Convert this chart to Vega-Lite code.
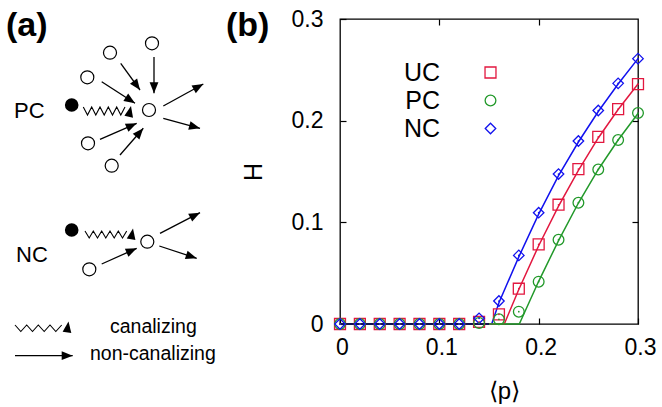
{
  "$schema": "https://vega.github.io/schema/vega-lite/v6.json",
  "width": 298,
  "height": 305,
  "autosize": {"type": "none"},
  "padding": {"left": 340, "top": 19, "right": 24, "bottom": 83},
  "background": "white",
  "config": {
    "font": "Liberation Sans",
    "view": {"stroke": "black", "strokeWidth": 1.3}
  },
  "datasets": {
    "markers": [
      {"s": "UC", "p": 0, "h": 0}, {"s": "UC", "p": 0.02, "h": 0}, {"s": "UC", "p": 0.04, "h": 0}, {"s": "UC", "p": 0.06, "h": 0},
      {"s": "UC", "p": 0.08, "h": 0}, {"s": "UC", "p": 0.1, "h": 0}, {"s": "UC", "p": 0.12, "h": 0}, {"s": "UC", "p": 0.14, "h": 0.002},
      {"s": "UC", "p": 0.16, "h": 0.0095}, {"s": "UC", "p": 0.18, "h": 0.0347}, {"s": "UC", "p": 0.2, "h": 0.0783}, {"s": "UC", "p": 0.22, "h": 0.1173},
      {"s": "UC", "p": 0.24, "h": 0.1524}, {"s": "UC", "p": 0.26, "h": 0.184}, {"s": "UC", "p": 0.28, "h": 0.2114}, {"s": "UC", "p": 0.3, "h": 0.236},
      {"s": "PC", "p": 0, "h": 0}, {"s": "PC", "p": 0.02, "h": 0}, {"s": "PC", "p": 0.04, "h": 0}, {"s": "PC", "p": 0.06, "h": 0},
      {"s": "PC", "p": 0.08, "h": 0}, {"s": "PC", "p": 0.1, "h": 0}, {"s": "PC", "p": 0.12, "h": 0}, {"s": "PC", "p": 0.14, "h": 0.001},
      {"s": "PC", "p": 0.16, "h": 0.0046}, {"s": "PC", "p": 0.18, "h": 0.0121}, {"s": "PC", "p": 0.2, "h": 0.0416}, {"s": "PC", "p": 0.22, "h": 0.0829},
      {"s": "PC", "p": 0.24, "h": 0.1193}, {"s": "PC", "p": 0.26, "h": 0.152}, {"s": "PC", "p": 0.28, "h": 0.181}, {"s": "PC", "p": 0.3, "h": 0.2075},
      {"s": "NC", "p": 0, "h": 0}, {"s": "NC", "p": 0.02, "h": 0}, {"s": "NC", "p": 0.04, "h": 0}, {"s": "NC", "p": 0.06, "h": 0},
      {"s": "NC", "p": 0.08, "h": 0}, {"s": "NC", "p": 0.1, "h": 0}, {"s": "NC", "p": 0.12, "h": 0}, {"s": "NC", "p": 0.14, "h": 0.0056},
      {"s": "NC", "p": 0.16, "h": 0.0226}, {"s": "NC", "p": 0.18, "h": 0.0675}, {"s": "NC", "p": 0.2, "h": 0.1095}, {"s": "NC", "p": 0.22, "h": 0.1475},
      {"s": "NC", "p": 0.24, "h": 0.18}, {"s": "NC", "p": 0.26, "h": 0.21}, {"s": "NC", "p": 0.28, "h": 0.2367}, {"s": "NC", "p": 0.3, "h": 0.261}
    ],
    "fits": [
      {"s": "NC", "p": 0, "h": 0}, {"s": "NC", "p": 0.1527, "h": 0}, {"s": "NC", "p": 0.16, "h": 0.021}, {"s": "NC", "p": 0.18, "h": 0.066},
      {"s": "NC", "p": 0.2, "h": 0.108}, {"s": "NC", "p": 0.22, "h": 0.146}, {"s": "NC", "p": 0.24, "h": 0.179}, {"s": "NC", "p": 0.26, "h": 0.209},
      {"s": "NC", "p": 0.28, "h": 0.236}, {"s": "NC", "p": 0.3, "h": 0.261},
      {"s": "UC", "p": 0, "h": 0}, {"s": "UC", "p": 0.1654, "h": 0}, {"s": "UC", "p": 0.18, "h": 0.034}, {"s": "UC", "p": 0.2, "h": 0.077},
      {"s": "UC", "p": 0.22, "h": 0.116}, {"s": "UC", "p": 0.24, "h": 0.151}, {"s": "UC", "p": 0.26, "h": 0.183}, {"s": "UC", "p": 0.28, "h": 0.211},
      {"s": "UC", "p": 0.3, "h": 0.236},
      {"s": "PC", "p": 0, "h": 0}, {"s": "PC", "p": 0.1805, "h": 0}, {"s": "PC", "p": 0.2, "h": 0.042}, {"s": "PC", "p": 0.22, "h": 0.082},
      {"s": "PC", "p": 0.24, "h": 0.119}, {"s": "PC", "p": 0.26, "h": 0.152}, {"s": "PC", "p": 0.28, "h": 0.181}, {"s": "PC", "p": 0.3, "h": 0.207},
      {"s": "base", "p": 0, "h": 0}, {"s": "base", "p": 0.15, "h": 0}
    ],
    "nodes": [
      {"k": "target", "u": 14.9, "v": 11.0}, {"k": "other", "u": 15.2, "v": 4.33}, {"k": "other", "u": 11.0, "v": 5.27},
      {"k": "other", "u": 8.73, "v": 7.73}, {"k": "other", "u": 8.8, "v": 14.33}, {"k": "other", "u": 11.17, "v": 16.57},
      {"k": "canal", "u": 7.17, "v": 10.5},
      {"k": "target", "u": 14.73, "v": 24.17}, {"k": "other", "u": 8.93, "v": 26.93}, {"k": "canal", "u": 7.17, "v": 23.0}
    ],
    "arrows": [
      {"u1": 12.07, "v1": 6.33, "u2": 14.0, "v2": 9.0},
      {"u1": 15.4, "v1": 5.7, "u2": 15.4, "v2": 9.33},
      {"u1": 10.17, "v1": 8.17, "u2": 13.5, "v2": 10.33},
      {"u1": 10.0, "v1": 13.93, "u2": 13.67, "v2": 12.33},
      {"u1": 12.0, "v1": 15.5, "u2": 14.33, "v2": 12.83},
      {"u1": 16.33, "v1": 10.6, "u2": 20.33, "v2": 8.4},
      {"u1": 16.33, "v1": 11.83, "u2": 20.0, "v2": 12.83},
      {"u1": 10.17, "v1": 26.4, "u2": 13.67, "v2": 24.83},
      {"u1": 16.0, "v1": 23.33, "u2": 20.0, "v2": 21.27},
      {"u1": 15.93, "v1": 24.6, "u2": 19.67, "v2": 25.83},
      {"u1": 1.5, "v1": 35.57, "u2": 7.27, "v2": 35.57}
    ],
    "heads": [
      {"u": 14.0, "v": 9.0, "a": 144}, {"u": 15.4, "v": 9.33, "a": 180}, {"u": 13.5, "v": 10.33, "a": 123},
      {"u": 13.67, "v": 12.33, "a": 66}, {"u": 14.33, "v": 12.83, "a": 41}, {"u": 20.33, "v": 8.4, "a": 61},
      {"u": 20.0, "v": 12.83, "a": 105}, {"u": 13.67, "v": 24.83, "a": 66}, {"u": 20.0, "v": 21.27, "a": 63},
      {"u": 19.67, "v": 25.83, "a": 108}, {"u": 7.27, "v": 35.57, "a": 90},
      {"u": 13.1, "v": 10.6, "a": 12}, {"u": 13.3, "v": 22.85, "a": 10}, {"u": 6.85, "v": 32.15, "a": 8}
    ],
    "zigzags": [
      {"z": "PC", "i": 0, "u": 8.33, "v": 10.7}, {"z": "PC", "i": 1, "u": 8.75, "v": 11.5}, {"z": "PC", "i": 2, "u": 9.17, "v": 10.7},
      {"z": "PC", "i": 3, "u": 9.58, "v": 11.5}, {"z": "PC", "i": 4, "u": 10.0, "v": 10.7}, {"z": "PC", "i": 5, "u": 10.42, "v": 11.5},
      {"z": "PC", "i": 6, "u": 10.83, "v": 10.7}, {"z": "PC", "i": 7, "u": 11.25, "v": 11.5}, {"z": "PC", "i": 8, "u": 11.67, "v": 10.7},
      {"z": "PC", "i": 9, "u": 12.08, "v": 11.5}, {"z": "PC", "i": 10, "u": 12.5, "v": 10.7},
      {"z": "NC", "i": 0, "u": 8.5, "v": 23.1}, {"z": "NC", "i": 1, "u": 8.92, "v": 23.8}, {"z": "NC", "i": 2, "u": 9.33, "v": 23.1},
      {"z": "NC", "i": 3, "u": 9.75, "v": 23.8}, {"z": "NC", "i": 4, "u": 10.17, "v": 23.1}, {"z": "NC", "i": 5, "u": 10.58, "v": 23.8},
      {"z": "NC", "i": 6, "u": 11.0, "v": 23.1}, {"z": "NC", "i": 7, "u": 11.42, "v": 23.8}, {"z": "NC", "i": 8, "u": 11.83, "v": 23.1},
      {"z": "NC", "i": 9, "u": 12.25, "v": 23.8}, {"z": "NC", "i": 10, "u": 12.67, "v": 23.1},
      {"z": "key", "i": 0, "u": 1.5, "v": 32.5}, {"z": "key", "i": 1, "u": 2.08, "v": 33.15}, {"z": "key", "i": 2, "u": 2.67, "v": 32.5},
      {"z": "key", "i": 3, "u": 3.25, "v": 33.15}, {"z": "key", "i": 4, "u": 3.83, "v": 32.5}, {"z": "key", "i": 5, "u": 4.42, "v": 33.15},
      {"z": "key", "i": 6, "u": 5.0, "v": 32.5}, {"z": "key", "i": 7, "u": 5.58, "v": 33.15}, {"z": "key", "i": 8, "u": 6.17, "v": 32.5}
    ],
    "panelTags": [
      {"t": "(a)", "u": 0.6, "v": 3.55}, {"t": "(b)", "u": 22.6, "v": 3.55}
    ],
    "netTags": [
      {"t": "PC", "u": 1.4, "v": 11.8}, {"t": "NC", "u": 1.6, "v": 26.2}
    ],
    "keyTags": [
      {"t": "canalizing", "u": 11.0, "v": 33.25}, {"t": "non-canalizing", "u": 9.0, "v": 36.0}
    ]
  },
  "layer": [
    {
      "layer": [
        {
          "data": {"name": "fits"},
          "transform": [{"filter": "datum.s !== 'base'"}],
          "mark": {"type": "line", "strokeWidth": 1.5},
          "encoding": {
            "x": {
              "field": "p", "type": "quantitative",
              "scale": {"domain": [0, 0.3], "nice": false, "zero": false},
              "axis": {
                "orient": "bottom", "values": [0, 0.1, 0.2, 0.3], "format": "~g",
                "labelFlush": false, "labelOverlap": false, "grid": false, "domain": false,
                "tickSize": -6, "tickColor": "black", "tickWidth": 1.2,
                "labelFontSize": 23, "labelColor": "black", "labelPadding": 18, "labelOffset": 2,
                "title": "⟨p⟩", "titleFontSize": 24, "titleFontWeight": "normal", "titleColor": "black",
                "titleX": 164, "titleY": 74, "titleBaseline": "alphabetic", "titleAlign": "center"
              }
            },
            "y": {
              "field": "h", "type": "quantitative",
              "scale": {"domain": [0, 0.3], "nice": false, "zero": false},
              "axis": {
                "orient": "left", "values": [0, 0.1, 0.2, 0.3], "format": "~g",
                "labelFlush": false, "labelOverlap": false, "grid": false, "domain": false,
                "tickSize": -6, "tickColor": "black", "tickWidth": 1.2,
                "labelFontSize": 23, "labelColor": "black", "labelPadding": 23,
                "title": "H", "titleFontSize": 25, "titleFontWeight": "normal", "titleColor": "black",
                "titleAngle": -90, "titleX": -87, "titleY": 152.5, "titleBaseline": "middle", "titleAlign": "center"
              }
            },
            "color": {
              "field": "s", "type": "nominal",
              "scale": {"domain": ["UC", "PC", "NC"], "range": ["#e2173f", "#22992a", "#1111ee"]},
              "legend": null
            }
          }
        },
        {
          "data": {"name": "fits"},
          "transform": [{"filter": "datum.s === 'base'"}],
          "mark": {"type": "line", "strokeWidth": 2, "color": "#141450"},
          "encoding": {
            "x": {"field": "p", "type": "quantitative", "axis": null},
            "y": {"field": "h", "type": "quantitative", "axis": null}
          }
        },
        {
          "data": {"name": "markers"},
          "mark": {"type": "point", "filled": false, "strokeWidth": 1.3, "opacity": 1},
          "encoding": {
            "x": {
              "field": "p", "type": "quantitative",
              "axis": {"orient": "top", "values": [0.1, 0.2], "labels": false, "title": null, "grid": false, "domain": false, "tickSize": -6, "tickColor": "black", "tickWidth": 1.2}
            },
            "y": {
              "field": "h", "type": "quantitative",
              "axis": {"orient": "right", "values": [0.1, 0.2], "labels": false, "title": null, "grid": false, "domain": false, "tickSize": -6, "tickColor": "black", "tickWidth": 1.2}
            },
            "color": {
              "field": "s", "type": "nominal",
              "legend": {
                "orient": "none", "legendX": 138, "legendY": 41, "title": null,
                "labelFontSize": 25, "labelColor": "black", "labelAlign": "right", "labelOffset": -63,
                "symbolStrokeWidth": 1.3, "rowPadding": 2, "padding": 0, "labelLimit": 0
              }
            },
            "shape": {
              "field": "s", "type": "nominal",
              "scale": {"domain": ["UC", "PC", "NC"], "range": ["square", "circle", "diamond"]}
            },
            "size": {
              "field": "s", "type": "nominal",
              "scale": {"domain": ["UC", "PC", "NC"], "range": [120, 110, 150]}
            }
          }
        },
        {
          "data": {"name": "markers"},
          "mark": {"type": "point", "filled": true, "size": 3, "shape": "circle", "opacity": 1},
          "encoding": {
            "x": {"field": "p", "type": "quantitative", "axis": null},
            "y": {"field": "h", "type": "quantitative", "axis": null},
            "color": {"field": "s", "type": "nominal", "legend": null}
          }
        }
      ],
      "resolve": {
        "axis": {"x": "independent", "y": "independent"},
        "legend": {"color": "independent", "shape": "independent", "size": "independent"}
      }
    },
    {
      "layer": [
        {
          "data": {"name": "arrows"},
          "mark": {"type": "rule", "color": "black", "strokeWidth": 1.3},
          "encoding": {
            "x": {"field": "u1", "type": "quantitative", "scale": {"domain": [34, 63.8], "nice": false, "zero": false}, "axis": null},
            "y": {"field": "v1", "type": "quantitative", "scale": {"domain": [1.9, 32.4], "nice": false, "zero": false, "reverse": true}, "axis": null},
            "x2": {"field": "u2"},
            "y2": {"field": "v2"}
          }
        },
        {
          "data": {"name": "heads"},
          "mark": {"type": "point", "shape": "M0,0L0.4,1L-0.4,1Z", "filled": true, "color": "black", "size": 484, "opacity": 1},
          "encoding": {
            "x": {"field": "u", "type": "quantitative", "scale": {"domain": [34, 63.8], "nice": false, "zero": false}, "axis": null},
            "y": {"field": "v", "type": "quantitative", "scale": {"domain": [1.9, 32.4], "nice": false, "zero": false, "reverse": true}, "axis": null},
            "angle": {"field": "a", "type": "quantitative", "scale": null}
          }
        },
        {
          "data": {"name": "zigzags"},
          "mark": {"type": "line", "color": "black", "strokeWidth": 1.1},
          "encoding": {
            "x": {"field": "u", "type": "quantitative", "scale": {"domain": [34, 63.8], "nice": false, "zero": false}, "axis": null},
            "y": {"field": "v", "type": "quantitative", "scale": {"domain": [1.9, 32.4], "nice": false, "zero": false, "reverse": true}, "axis": null},
            "detail": {"field": "z", "type": "nominal"},
            "order": {"field": "i", "type": "quantitative"}
          }
        },
        {
          "data": {"name": "nodes"},
          "transform": [{"filter": "datum.k !== 'canal'"}],
          "mark": {"type": "point", "shape": "circle", "filled": false, "color": "black", "size": 170, "strokeWidth": 1.2, "opacity": 1},
          "encoding": {
            "x": {"field": "u", "type": "quantitative", "scale": {"domain": [34, 63.8], "nice": false, "zero": false}, "axis": null},
            "y": {"field": "v", "type": "quantitative", "scale": {"domain": [1.9, 32.4], "nice": false, "zero": false, "reverse": true}, "axis": null}
          }
        },
        {
          "data": {"name": "nodes"},
          "transform": [{"filter": "datum.k === 'canal'"}],
          "mark": {"type": "point", "shape": "circle", "filled": true, "color": "black", "size": 185, "opacity": 1},
          "encoding": {
            "x": {"field": "u", "type": "quantitative", "scale": {"domain": [34, 63.8], "nice": false, "zero": false}, "axis": null},
            "y": {"field": "v", "type": "quantitative", "scale": {"domain": [1.9, 32.4], "nice": false, "zero": false, "reverse": true}, "axis": null}
          }
        },
        {
          "data": {"name": "panelTags"},
          "mark": {"type": "text", "align": "left", "baseline": "alphabetic", "fontSize": 34, "fontWeight": "bold", "color": "black"},
          "encoding": {
            "x": {"field": "u", "type": "quantitative", "scale": {"domain": [34, 63.8], "nice": false, "zero": false}, "axis": null},
            "y": {"field": "v", "type": "quantitative", "scale": {"domain": [1.9, 32.4], "nice": false, "zero": false, "reverse": true}, "axis": null},
            "text": {"field": "t"}
          }
        },
        {
          "data": {"name": "netTags"},
          "mark": {"type": "text", "align": "left", "baseline": "alphabetic", "fontSize": 22, "color": "black"},
          "encoding": {
            "x": {"field": "u", "type": "quantitative", "scale": {"domain": [34, 63.8], "nice": false, "zero": false}, "axis": null},
            "y": {"field": "v", "type": "quantitative", "scale": {"domain": [1.9, 32.4], "nice": false, "zero": false, "reverse": true}, "axis": null},
            "text": {"field": "t"}
          }
        },
        {
          "data": {"name": "keyTags"},
          "mark": {"type": "text", "align": "left", "baseline": "alphabetic", "fontSize": 19.5, "color": "black"},
          "encoding": {
            "x": {"field": "u", "type": "quantitative", "scale": {"domain": [34, 63.8], "nice": false, "zero": false}, "axis": null},
            "y": {"field": "v", "type": "quantitative", "scale": {"domain": [1.9, 32.4], "nice": false, "zero": false, "reverse": true}, "axis": null},
            "text": {"field": "t"}
          }
        }
      ]
    }
  ],
  "resolve": {"scale": {"x": "independent", "y": "independent"}}
}
